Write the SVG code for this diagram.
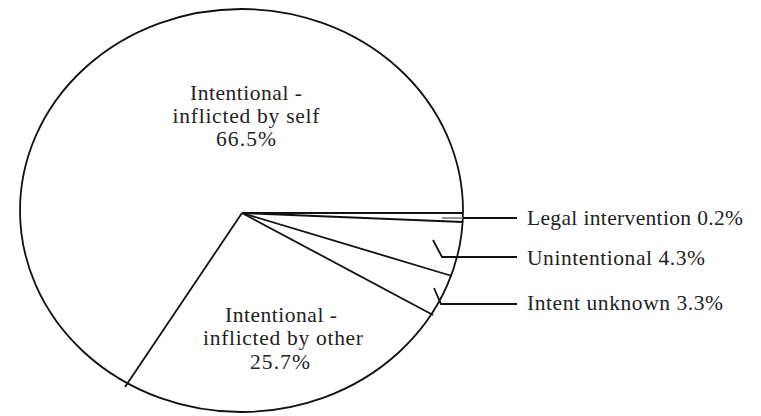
<svg xmlns="http://www.w3.org/2000/svg" width="761" height="416" viewBox="0 0 761 416">
<style>
.ln{stroke:#111;stroke-width:1.8;fill:none;stroke-linejoin:miter}
.t{font-family:"Liberation Serif","Times New Roman",serif;font-size:21.5px;fill:#222}
.c{text-anchor:middle}
</style>
<rect width="761" height="416" fill="#fff"/>
<g id="pie">
<ellipse cx="241.5" cy="210.5" rx="221.5" ry="201.5" class="ln" stroke-width="2"/>
</g>
<g id="connectors">
<line class="ln" x1="242" y1="213" x2="463" y2="213"/>
<line class="ln" x1="242" y1="213" x2="463" y2="222"/>
<line class="ln" x1="242" y1="213" x2="452" y2="276"/>
<line class="ln" x1="242" y1="213" x2="433" y2="315"/>
<line class="ln" x1="242" y1="213" x2="125" y2="387"/>
<line x1="442" y1="218" x2="463" y2="218" stroke="#888" stroke-width="1.8"/>
<line class="ln" x1="463" y1="218" x2="517" y2="218"/>
<polyline class="ln" points="433,240 442,257 517,257"/>
<polyline class="ln" points="434,288 441,304 517,304"/>
</g>
<g id="self">
<text class="t c" x="246" y="100" textLength="112">Intentional -</text>
<text class="t c" x="246" y="123" textLength="147">inflicted by self</text>
<text class="t c" x="246" y="146" textLength="60">66.5%</text>
</g>
<g id="other">
<text class="t c" x="281" y="322" textLength="112">Intentional -</text>
<text class="t c" x="283" y="345" textLength="160">inflicted by other</text>
<text class="t c" x="280" y="369" textLength="60">25.7%</text>
</g>
<g id="legal">
<text class="t" x="527" y="225" textLength="216">Legal intervention 0.2%</text>
</g>
<g id="unintentional">
<text class="t" x="527" y="265" textLength="178">Unintentional 4.3%</text>
</g>
<g id="unknown">
<text class="t" x="527" y="310" textLength="196">Intent unknown 3.3%</text>
</g>
</svg>
